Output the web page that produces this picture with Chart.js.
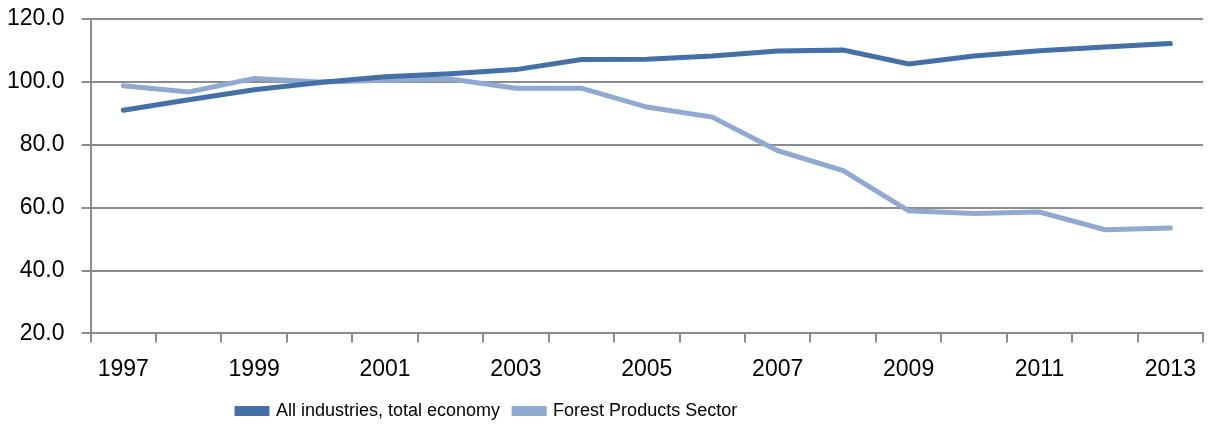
<!DOCTYPE html>
<html>
<head>
<meta charset="utf-8">
<script src="https://cdn.jsdelivr.net/npm/chart.js@4.4.0/dist/chart.umd.min.js"></script>
<style>
  html, body { margin: 0; padding: 0; background: #fff; }
  #wrap { width: 1209px; height: 428px; position: relative; }
</style>
</head>
<body>
<div id="wrap"><canvas id="lineChart"></canvas></div>
<script>
// years on the x axis
var years = ['1997', '1998', '1999', '2000', '2001', '2002', '2003', '2004', '2005',
             '2006', '2007', '2008', '2009', '2010', '2011', '2012', '2013'];

// index values
var allIndustries = [91.0, 94.3, 97.5, 99.8, 101.6, 102.6, 103.9, 107.1, 107.2,
                     108.2, 109.8, 110.1, 105.7, 108.2, 109.9, 111.1, 112.2];
var forestProducts = [98.8, 96.8, 101.1, 100.0, 100.5, 100.9, 98.0, 98.0, 92.0,
                      88.8, 78.1, 71.8, 59.0, 58.1, 58.6, 53.0, 53.5];

var yTicks = [20, 40, 60, 80, 100, 120];

var colors = {
    dark: '#4470a7',
    light: '#8fa9d0',
    grid: '#8c8c8c',
    text: '#000'
};
var fontFamily = "'Liberation Sans', Arial, sans-serif";
var legendSize = 18;
var legendPad = 14;

// legend sits left of centre in the original, so move it after layout
var legendPlacer = {
    id: 'legendPlacer',
    afterLayout: function(chart) {
        var lg = chart.legend;
        var w = lg.right - lg.left;
        var h = lg.bottom - lg.top;
        lg.left = 237 - legendPad;
        lg.right = lg.left + w;
        lg.top = 411 - legendPad - legendSize / 2;
        lg.bottom = lg.top + h;
    }
};

var ctx = document.getElementById('lineChart').getContext('2d');
new Chart(ctx, {
    type: 'line',
    data: {
        labels: years,
        datasets: [{
            label: 'All industries, total economy',
            data: allIndustries,
            borderColor: colors.dark,
            backgroundColor: colors.dark,
            borderWidth: 5,
            pointRadius: 0,
            tension: 0,
            borderCapStyle: 'round',
            fill: false
        }, {
            label: 'Forest Products Sector',
            data: forestProducts,
            borderColor: colors.light,
            backgroundColor: colors.light,
            borderWidth: 5,
            pointRadius: 0,
            tension: 0,
            borderCapStyle: 'round',
            fill: false
        }]
    },
    plugins: [legendPlacer],
    options: {
        responsive: true,
        maintainAspectRatio: false,
        animation: false,
        layout: { padding: { left: -10, right: 2, top: 5, bottom: 0 } },
        plugins: {
            legend: {
                display: true,
                position: 'bottom',
                align: 'start',
                labels: {
                    color: colors.text,
                    boxWidth: 30,
                    boxHeight: 5,
                    padding: legendPad,
                    font: { family: fontFamily, size: legendSize }
                }
            },
            tooltip: { enabled: false }
        },
        scales: {
            x: {
                offset: true,
                afterFit: function(axis) {
                    axis.height -= 10;
                },
                grid: {
                    offset: true,
                    drawOnChartArea: false,
                    color: colors.grid,
                    tickLength: 9,
                    lineWidth: 2
                },
                border: { color: colors.grid, width: 2 },
                ticks: {
                    color: colors.text,
                    autoSkip: false,
                    maxRotation: 0,
                    padding: 13,
                    font: { family: fontFamily, size: 23 },
                    callback: function(value, index) {
                        return index % 2 === 0 ? years[index] : '';
                    }
                }
            },
            y: {
                min: yTicks[0],
                max: yTicks[yTicks.length - 1],
                afterBuildTicks: function(axis) {
                    axis.ticks = yTicks.map(function(v) { return { value: v }; });
                },
                // the tick padding is only wanted sideways, not above/below
                afterFit: function(axis) {
                    axis.paddingTop = 19;
                    axis.paddingBottom = 14;
                },
                grid: {
                    color: colors.grid,
                    lineWidth: 2,
                    tickLength: 9
                },
                border: { color: colors.grid, width: 2 },
                ticks: {
                    color: colors.text,
                    padding: 17,
                    font: { family: fontFamily, size: 23 },
                    callback: function(value) {
                        return value.toFixed(1);
                    }
                }
            }
        }
    }
});
</script>
</body>
</html>
